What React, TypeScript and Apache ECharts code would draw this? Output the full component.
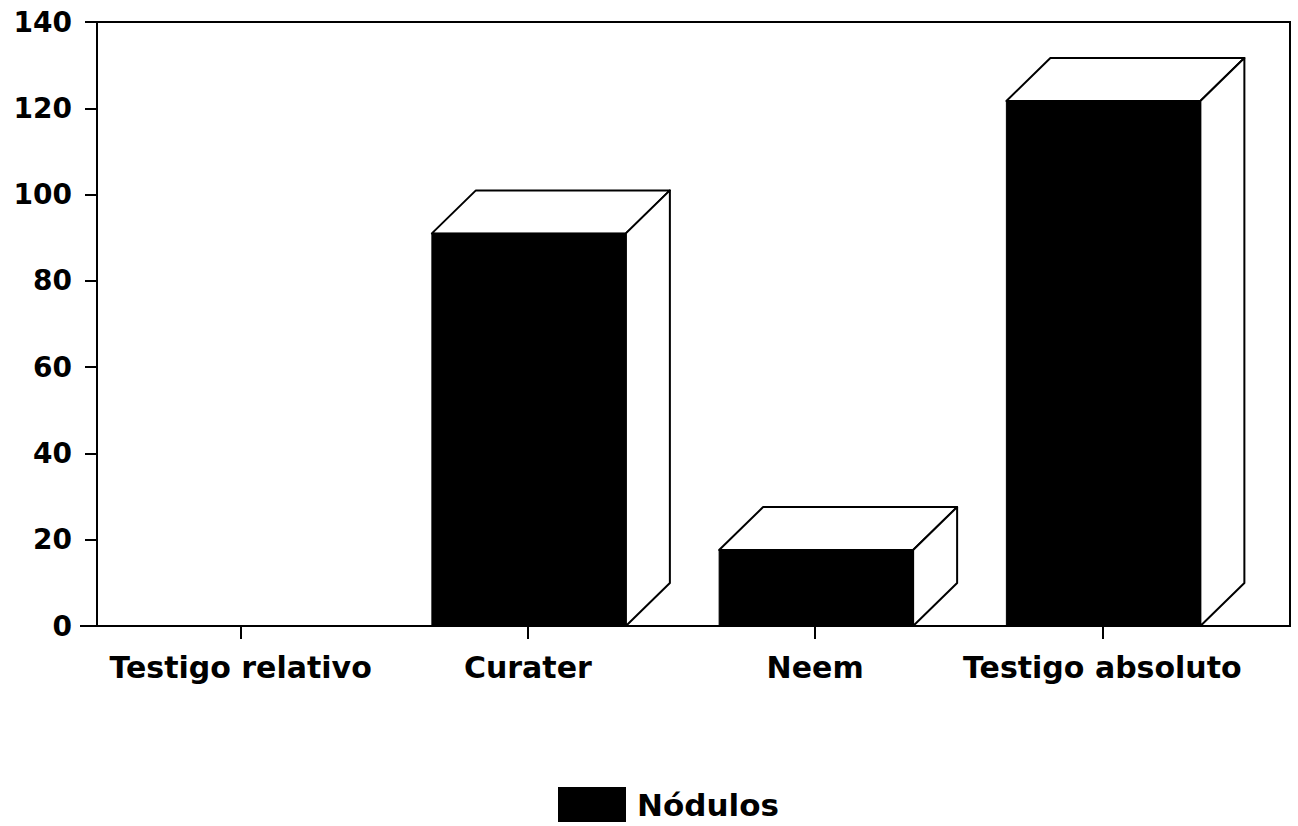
import React, { useEffect, useRef } from "react";
import * as echarts from "echarts";

const categories = ["Testigo relativo", "Curater", "Neem", "Testigo absoluto"];
const nodulos = [0, 91, 17.6, 121.7];
const seriesName = "Nódulos";
const font = "DejaVu Sans";

const BAR_W = 194;
const DEPTH_X = 44;
const DEPTH_Y = 43;
const BAR_SHIFT = 1;

function renderItem(_params: any, api: any) {
  const cat = api.value(0);
  const val = api.value(1);
  if (!val) return { type: "group", children: [] };
  const top = api.coord([cat, val]);
  const base = api.coord([cat, 0]);
  const l = top[0] - BAR_W / 2 + BAR_SHIFT;
  const r = l + BAR_W;
  const t = top[1];
  const b = base[1];
  const edge = { fill: "#fff", stroke: "#000", lineWidth: 2, lineJoin: "round" };
  return {
    type: "group",
    children: [
      {
        type: "polygon",
        shape: { points: [[l, t], [l + DEPTH_X, t - DEPTH_Y], [r + DEPTH_X, t - DEPTH_Y], [r, t]] },
        style: edge,
      },
      {
        type: "polygon",
        shape: { points: [[r, t], [r + DEPTH_X, t - DEPTH_Y], [r + DEPTH_X, b - DEPTH_Y], [r, b]] },
        style: edge,
      },
      {
        type: "rect",
        shape: { x: l, y: t, width: BAR_W, height: b - t },
        style: { fill: "#000", stroke: "#000", lineWidth: 1 },
      },
    ],
  };
}

export default function App() {
  const ref = useRef<HTMLDivElement>(null);
  useEffect(() => {
    document.body.style.margin = "0";
    const chart = echarts.init(ref.current!, undefined, { renderer: "svg" });
    chart.setOption({
      animation: false,
      backgroundColor: "#fff",
      grid: { left: 97, top: 22, width: 1149, height: 604 },
      graphic: [
        {
          type: "rect",
          z: 0,
          shape: { x: 97, y: 22, width: 1193, height: 604 },
          style: { fill: "none", stroke: "#000", lineWidth: 2 },
        },
        { type: "line", z: 0, shape: { x1: 80, y1: 626, x2: 97, y2: 626 }, style: { stroke: "#000", lineWidth: 2 } },
      ],
      legend: {
        left: 558,
        top: 787,
        itemWidth: 68,
        itemHeight: 35,
        icon: "rect",
        padding: 0,
        data: [seriesName],
        textStyle: { fontFamily: font, fontWeight: "bold", fontSize: 31, color: "#000", padding: [4, 0, 0, 6] },
      },
      xAxis: {
        type: "category",
        data: categories,
        boundaryGap: true,
        axisLine: { show: false },
        axisTick: { show: true, alignWithLabel: true, length: 13, lineStyle: { color: "#000", width: 2 } },
        axisLabel: {
          interval: 0,
          margin: 26,
          color: "#000",
          fontFamily: font,
          fontWeight: "bold",
          fontSize: 30,
        },
      },
      yAxis: {
        type: "value",
        min: 0,
        max: 140,
        interval: 20,
        splitLine: { show: false },
        axisLine: { show: false },
        axisTick: { show: true, length: 12, lineStyle: { color: "#000", width: 2 } },
        axisLabel: {
          margin: 25,
          padding: [3, 0, 0, 0],
          color: "#000",
          fontFamily: font,
          fontWeight: "bold",
          fontSize: 28,
        },
      },
      series: [
        {
          type: "custom",
          name: seriesName,
          renderItem,
          itemStyle: { color: "#000" },
          encode: { x: 0, y: 1 },
          data: nodulos.map((v, i) => [i, v]),
          z: 3,
        },
      ],
    });
    return () => chart.dispose();
  }, []);
  return <div ref={ref} style={{ width: 1298, height: 826, display: "block" }} />;
}
